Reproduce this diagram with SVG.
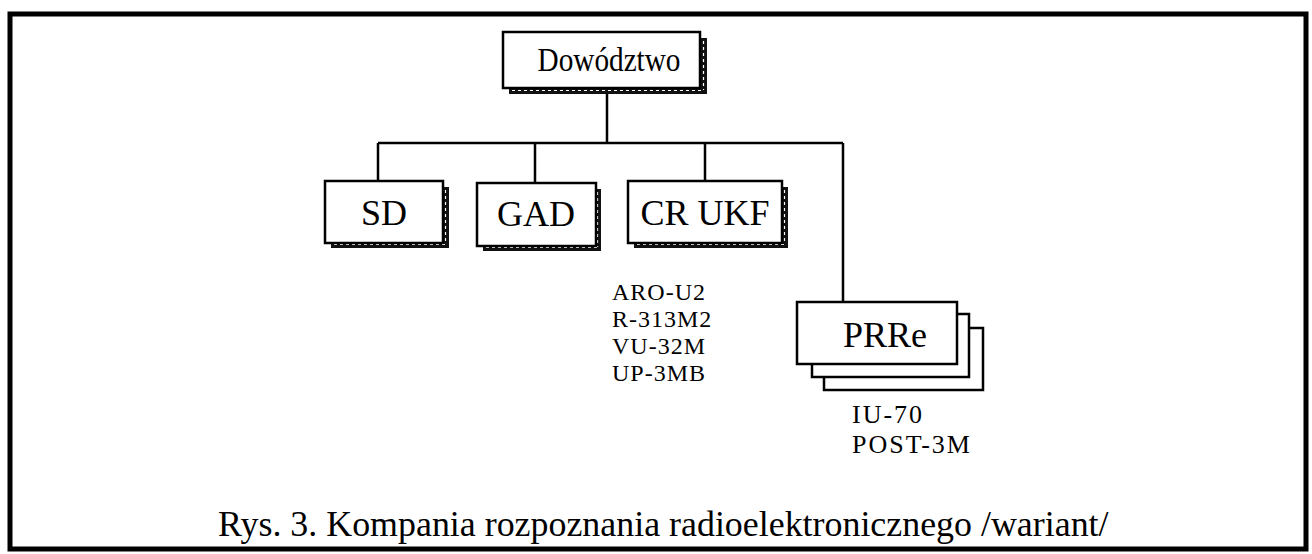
<svg xmlns="http://www.w3.org/2000/svg" width="1312" height="554" viewBox="0 0 1312 554">
  <style>
    .frame { fill: none; stroke: #000; stroke-width: 5; }
    .box { fill: #fff; stroke: #000; stroke-width: 2.5; }
    .sh { fill: #111; }
    .shdash { stroke: #fff; stroke-width: 1.2; stroke-dasharray: 3 3; fill: none; }
    .plain { fill: #fff; stroke: #000; stroke-width: 2.5; }
    .wire { fill: none; stroke: #000; stroke-width: 2.5; }
    .lbl { font-family: "Liberation Serif", "Times New Roman", serif; font-size: 36px; fill: #000; text-anchor: middle; }
    .top { font-size: 33px; }
    .sub { font-family: "Liberation Serif", "Times New Roman", serif; font-size: 24px; letter-spacing: 1px; fill: #000; }
    .sub2 { font-family: "Liberation Serif", "Times New Roman", serif; font-size: 26px; letter-spacing: 2px; fill: #000; }
    .cap { font-family: "Liberation Serif", "Times New Roman", serif; font-size: 35.9px; fill: #000; }
  </style>

  <rect class="frame" x="10" y="14" width="1296" height="535"/>

  <!-- connectors -->
  <g id="connectors">
    <path class="wire" d="M607 94 V143 M378 143 H843 M378 143 V181 M535 143 V183 M705 143 V181 M843 143 V302"/>
  </g>

  <g id="node-dowodztwo">
    <rect class="sh" x="509" y="87" width="198" height="7"/>
    <rect class="sh" x="700" y="38" width="7" height="56"/>
    <line class="shdash" x1="512" y1="90.5" x2="704" y2="90.5"/>
    <line class="shdash" x1="703.5" y1="41" x2="703.5" y2="90"/>
    <rect class="box" x="503" y="32" width="197" height="56"/>
    <text class="lbl top" x="609" y="71" textLength="143" lengthAdjust="spacingAndGlyphs">Dowództwo</text>
  </g>

  <g id="node-sd">
    <rect class="sh" x="331" y="241" width="118" height="7"/>
    <rect class="sh" x="442" y="187" width="7" height="61"/>
    <line class="shdash" x1="334" y1="244.5" x2="446" y2="244.5"/>
    <line class="shdash" x1="445.5" y1="190" x2="445.5" y2="244"/>
    <rect class="box" x="325" y="181" width="118" height="62"/>
    <text class="lbl" x="384" y="225">SD</text>
  </g>

  <g id="node-gad">
    <rect class="sh" x="483" y="244" width="118" height="7"/>
    <rect class="sh" x="594" y="189" width="7" height="62"/>
    <line class="shdash" x1="486" y1="247.5" x2="598" y2="247.5"/>
    <line class="shdash" x1="597.5" y1="192" x2="597.5" y2="247"/>
    <rect class="box" x="477" y="183" width="119" height="63"/>
    <text class="lbl" x="536" y="226">GAD</text>
  </g>

  <g id="node-crukf">
    <rect class="sh" x="634" y="241" width="154" height="7"/>
    <rect class="sh" x="781" y="187" width="7" height="61"/>
    <line class="shdash" x1="637" y1="244.5" x2="785" y2="244.5"/>
    <line class="shdash" x1="784.5" y1="190" x2="784.5" y2="244"/>
    <rect class="box" x="628" y="181" width="154" height="62"/>
    <text class="lbl" x="705" y="225">CR UKF</text>
  </g>

  <g id="node-prre">
    <rect class="plain" x="824" y="328" width="159" height="62"/>
    <rect class="plain" x="812" y="314" width="157" height="63"/>
    <rect class="plain" x="797" y="302" width="160" height="62"/>
    <text class="lbl" x="885" y="347">PRRe</text>
  </g>

  <g id="list-crukf">
    <text class="sub" x="612" y="300">ARO-U2</text>
    <text class="sub" x="612" y="327">R-313M2</text>
    <text class="sub" x="612" y="354">VU-32M</text>
    <text class="sub" x="612" y="381">UP-3MB</text>
  </g>

  <g id="list-prre">
    <text class="sub2" x="852" y="423">IU-70</text>
    <text class="sub2" x="852" y="453">POST-3M</text>
  </g>

  <text class="cap" x="218" y="536">Rys. 3. Kompania rozpoznania radioelektronicznego /wariant/</text>
</svg>
